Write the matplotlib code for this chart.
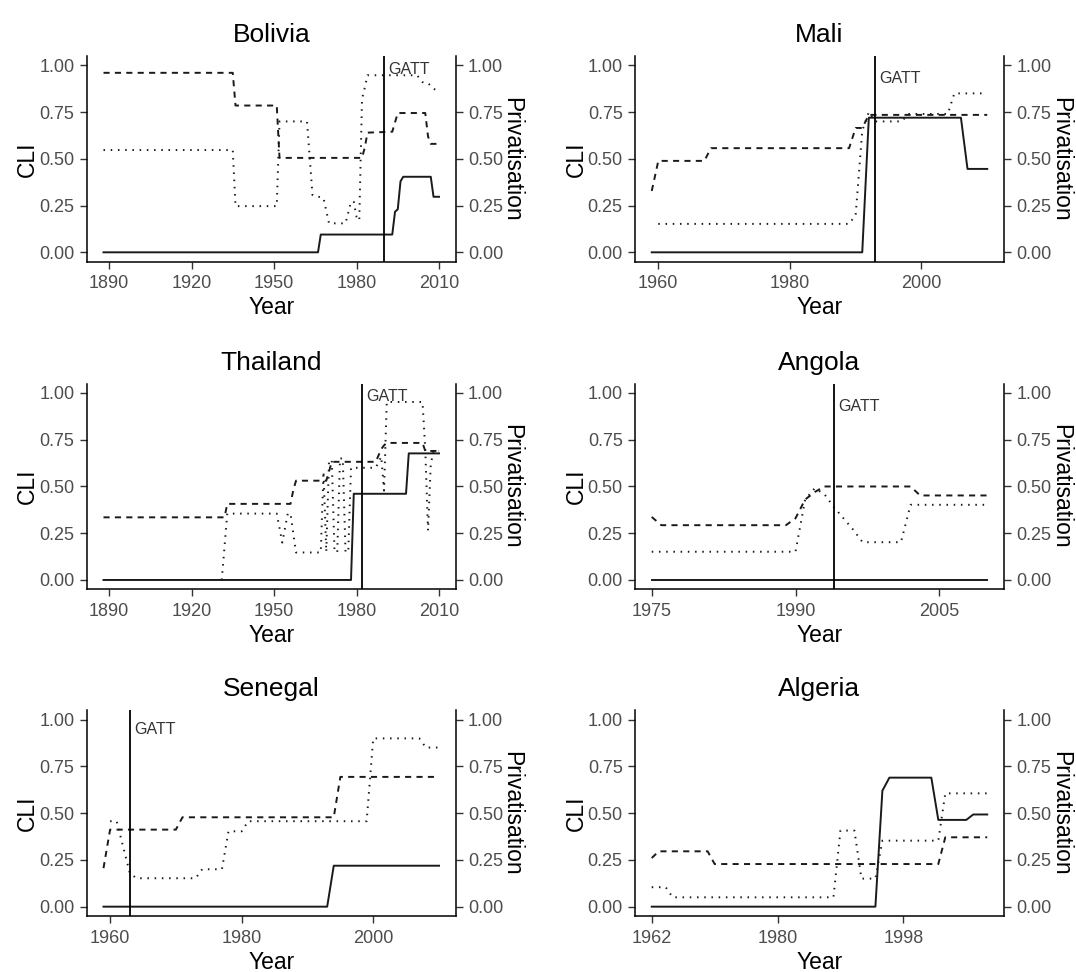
import matplotlib
matplotlib.use("Agg")
import matplotlib.pyplot as plt

plt.rcParams['font.family'] = ['Liberation Sans', 'DejaVu Sans']
plt.rcParams['lines.scale_dashes'] = False

countries = ["Bolivia", "Mali", "Thailand", "Angola", "Senegal", "Algeria"]
gatt_years = [1990, 1993, 1982, 1994, 1963, None]
x_ticks = [[1890, 1920, 1950, 1980, 2010],
           [1960, 1980, 2000],
           [1890, 1920, 1950, 1980, 2010],
           [1975, 1990, 2005],
           [1960, 1980, 2000],
           [1962, 1980, 1998]]
y_ticks = [0.0, 0.25, 0.5, 0.75, 1.0]

# (year, value) points
bolivia_solid = [(1888, 0.0), (1966, 0.0), (1967, 0.095), (1993, 0.095), (1994, 0.217),
                 (1995, 0.23), (1996, 0.38), (1997, 0.404), (2007, 0.404), (2008, 0.297), (2010, 0.297)]
bolivia_dashed = [(1888, 0.96), (1935, 0.96), (1936, 0.785), (1951, 0.785), (1952, 0.505),
                  (1982, 0.505), (1983, 0.56), (1984, 0.64), (1993, 0.645), (1995, 0.745),
                  (2005, 0.745), (2006, 0.62), (2007, 0.58), (2010, 0.58)]
bolivia_dotted = [(1888, 0.547), (1935, 0.547), (1936, 0.247), (1951, 0.247), (1952, 0.70),
                  (1962, 0.70), (1964, 0.306), (1968, 0.29), (1970, 0.155), (1976, 0.155),
                  (1978, 0.27), (1979, 0.27), (1980, 0.19), (1981, 0.17), (1982, 0.82),
                  (1983, 0.88), (1984, 0.947), (2002, 0.947), (2004, 0.91), (2006, 0.905),
                  (2008, 0.875), (2010, 0.86)]

mali_solid = [(1959, 0.0), (1991, 0.0), (1992, 0.72), (2006, 0.72), (2007, 0.446), (2010, 0.446)]
mali_dashed = [(1959, 0.328), (1960, 0.489), (1967, 0.489), (1968, 0.557), (1989, 0.557),
               (1990, 0.665), (1991, 0.665), (1992, 0.735), (2010, 0.735)]
mali_dotted = [(1960, 0.152), (1989, 0.152), (1990, 0.2), (1991, 0.65), (1992, 0.75),
               (1993, 0.70), (1997, 0.70), (1998, 0.74), (2004, 0.74), (2005, 0.85), (2010, 0.85)]

thailand_solid = [(1888, 0.0), (1978, 0.0), (1979, 0.461), (1998, 0.461), (1999, 0.677), (2010, 0.677)]
thailand_dashed = [(1888, 0.335), (1932, 0.335), (1933, 0.407), (1956, 0.407), (1957, 0.48),
                   (1958, 0.531), (1969, 0.531), (1970, 0.58), (1971, 0.632), (1987, 0.632),
                   (1989, 0.70), (1990, 0.72), (1991, 0.733), (2004, 0.733), (2005, 0.69), (2010, 0.69)]
thailand_dotted = [(1931, 0.0), (1933, 0.355), (1951, 0.355), (1953, 0.2), (1955, 0.355),
                   (1956, 0.355), (1958, 0.147), (1967, 0.147), (1968, 0.58), (1969, 0.15),
                   (1970, 0.64), (1971, 0.64), (1972, 0.15), (1973, 0.15), (1974, 0.65),
                   (1975, 0.65), (1976, 0.15), (1977, 0.15), (1978, 0.60), (1987, 0.60),
                   (1989, 0.66), (1990, 0.478), (1991, 0.952), (2004, 0.952), (2005, 0.70),
                   (2006, 0.265), (2007, 0.62), (2008, 0.69), (2010, 0.69)]

angola_solid = [(1975, 0.0), (2010, 0.0)]
angola_dashed = [(1975, 0.337), (1976, 0.293), (1989, 0.293), (1990, 0.33), (1991, 0.43),
                 (1992, 0.47), (1993, 0.50), (2002, 0.50), (2003, 0.452), (2010, 0.452)]
angola_dotted = [(1975, 0.151), (1990, 0.151), (1991, 0.43), (1992, 0.49), (1993, 0.46),
                 (1994, 0.39), (1996, 0.27), (1997, 0.202), (2001, 0.202), (2002, 0.402), (2010, 0.402)]

senegal_solid = [(1959, 0.0), (1993, 0.0), (1994, 0.219), (2010, 0.219)]
senegal_dashed = [(1959, 0.206), (1960, 0.412), (1970, 0.412), (1971, 0.478), (1994, 0.478),
                  (1995, 0.694), (2010, 0.694)]
senegal_dotted = [(1960, 0.457), (1961, 0.457), (1963, 0.18), (1964, 0.152), (1973, 0.152),
                  (1974, 0.2), (1977, 0.2), (1978, 0.403), (1980, 0.403), (1981, 0.457),
                  (1999, 0.457), (2000, 0.90), (2007, 0.90), (2008, 0.851), (2010, 0.851)]

algeria_solid = [(1962, 0.0), (1994, 0.0), (1995, 0.62), (1996, 0.69), (2002, 0.69),
                 (2003, 0.464), (2007, 0.464), (2008, 0.493), (2010, 0.493)]
algeria_dashed = [(1962, 0.26), (1963, 0.296), (1970, 0.296), (1971, 0.228), (2003, 0.228),
                  (2004, 0.371), (2010, 0.371)]
algeria_dotted = [(1962, 0.104), (1964, 0.104), (1965, 0.05), (1988, 0.05), (1989, 0.407),
                  (1991, 0.407), (1992, 0.15), (1994, 0.15), (1995, 0.353), (2003, 0.353),
                  (2004, 0.606), (2010, 0.606)]

panel_series = [
  [bolivia_solid, bolivia_dashed, bolivia_dotted],
  [mali_solid, mali_dashed, mali_dotted],
  [thailand_solid, thailand_dashed, thailand_dotted],
  [angola_solid, angola_dashed, angola_dotted],
  [senegal_solid, senegal_dashed, senegal_dotted],
  [algeria_solid, algeria_dashed, algeria_dotted],
]

# where the GATT label sits vertically in each panel
gatt_label_y = [0.98, 0.93, 0.98, 0.93, 0.95, None]

LINE = '#1a1a1a'
styles = [dict(linestyle='-'),
          dict(dashes=(4.4, 3.8)),
          dict(dashes=(1.1, 4.1), dash_capstyle='butt')]

lefts = [0.0806, 0.5901]
bottoms = [0.7308, 0.3937, 0.0576]
W, H = 0.343, 0.2116


def style_axis(ax):
  for side in ['top', 'right', 'left', 'bottom']:
    ax.spines[side].set_visible(False)
  ax.tick_params(axis='both', direction='out', length=4.8, width=1.0,
                 color='#333333', labelcolor='#4d4d4d', labelsize=13)
  ax.tick_params(axis='x', pad=5)
  ax.tick_params(axis='y', pad=4)


def draw_panel(ax, name, series, gatt, ticks, label_y):
  years = [p[0] for s in series for p in s]
  lo, hi = min(years), max(years)
  pad = (hi - lo) * 0.05

  for pts, st in zip(series, styles):
    x = [p[0] for p in pts]
    y = [p[1] for p in pts]
    ax.plot(x, y, color=LINE, lw=1.4, **st)

  if gatt is not None:
    ax.axvline(gatt, color='black', lw=1.3)
    ax.annotate('GATT', xy=(gatt, label_y), xytext=(3, 0), textcoords='offset points',
                ha='left', va='center', fontsize=11.5, color='#333333')

  ax.set_xlim(lo - pad, hi + pad)
  ax.set_ylim(-0.05, 1.05)
  ax.set_xticks(ticks)
  ax.set_yticks(y_ticks)
  ax.set_yticklabels(['%.2f' % v for v in y_ticks])

  style_axis(ax)
  ax.spines['left'].set_visible(True)
  ax.spines['bottom'].set_visible(True)
  ax.spines['left'].set_linewidth(1.1)
  ax.spines['bottom'].set_linewidth(1.1)

  ax.set_title(name, fontsize=19, pad=10)
  ax.set_xlabel('Year', fontsize=16.5, labelpad=3)
  ax.set_ylabel('CLI', fontsize=16.5, labelpad=0)

  ax2 = ax.twinx()
  ax2.set_ylim(-0.05, 1.05)
  ax2.set_yticks(y_ticks)
  ax2.set_yticklabels(['%.2f' % v for v in y_ticks])
  style_axis(ax2)
  ax2.spines['right'].set_visible(True)
  ax2.spines['right'].set_linewidth(1.1)
  ax2.set_ylabel('Privatisation', fontsize=16.5, rotation=270, va='bottom', labelpad=-2)


fig = plt.figure(figsize=(10.76, 9.72), dpi=100)

for i, name in enumerate(countries):
  row, col = i // 2, i % 2
  ax = fig.add_axes([lefts[col], bottoms[row], W, H])
  draw_panel(ax, name, panel_series[i], gatt_years[i], x_ticks[i], gatt_label_y[i])

fig.savefig('out.png', dpi=100, facecolor='white')
